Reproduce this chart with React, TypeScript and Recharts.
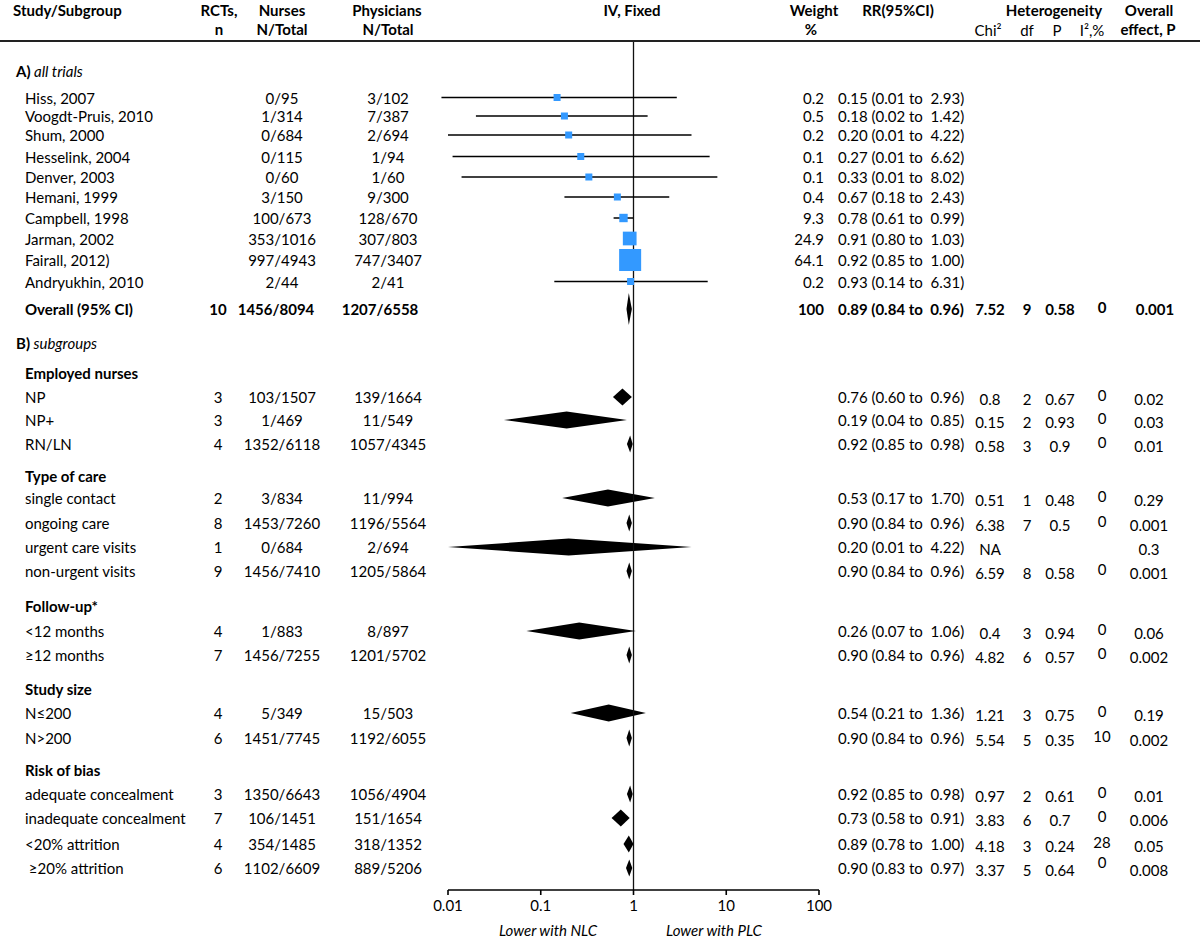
import React from 'react';
import {
  ScatterChart,
  Scatter,
  XAxis,
  YAxis,
  ReferenceLine,
  ReferenceArea,
} from 'recharts';

const FONT = 'Lato, "Open Sans", sans-serif';
const FS = 15;
const SQUARE_BLUE = '#3399ff';

// ---- A) all trials ----
const studyNames = [
  'Hiss, 2007',
  'Voogdt-Pruis, 2010',
  'Shum, 2000',
  'Hesselink, 2004',
  'Denver, 2003',
  'Hemani, 1999',
  'Campbell, 1998',
  'Jarman, 2002',
  'Fairall, 2012)',
  'Andryukhin, 2010',
];
const studyNurses = ['0/95', '1/314', '0/684', '0/115', '0/60', '3/150', '100/673', '353/1016', '997/4943', '2/44'];
const studyPhysicians = ['3/102', '7/387', '2/694', '1/94', '1/60', '9/300', '128/670', '307/803', '747/3407', '2/41'];
const studyWeight = [0.2, 0.5, 0.2, 0.1, 0.1, 0.4, 9.3, 24.9, 64.1, 0.2];
const studyRR = [0.15, 0.18, 0.2, 0.27, 0.33, 0.67, 0.78, 0.91, 0.92, 0.93];
// lower limits as drawn (the printed 0.01 values are rounded)
const studyLow = [0.0085, 0.02, 0.01, 0.0112, 0.014, 0.18, 0.61, 0.8, 0.85, 0.14];
const studyHigh = [2.93, 1.42, 4.22, 6.62, 8.02, 2.43, 0.99, 1.03, 1.0, 6.31];
const studyCI = [
  '0.15 (0.01 to  2.93)',
  '0.18 (0.02 to  1.42)',
  '0.20 (0.01 to  4.22)',
  '0.27 (0.01 to  6.62)',
  '0.33 (0.01 to  8.02)',
  '0.67 (0.18 to  2.43)',
  '0.78 (0.61 to  0.99)',
  '0.91 (0.80 to  1.03)',
  '0.92 (0.85 to  1.00)',
  '0.93 (0.14 to  6.31)',
];

// ---- overall ----
const overallCells = ['Overall (95% CI)', '10', '1456/8094', '1207/6558', '100', '0.89 (0.84 to  0.96)', '7.52', '9', '0.58', '0', '0.001'];
const overallRR = 0.89;
const overallLow = 0.84;
const overallHigh = 0.96;

// ---- B) subgroups ----
const groupNames = ['Employed nurses', 'Type of care', 'Follow-up*', 'Study size', 'Risk of bias'];
const groupSizes = [3, 4, 2, 2, 4];
const subNames = [
  'NP', 'NP+', 'RN/LN',
  'single contact', 'ongoing care', 'urgent care visits', 'non-urgent visits',
  '<12 months', '≥12 months',
  'N≤200', 'N>200',
  'adequate concealment', 'inadequate concealment', '<20% attrition', ' ≥20% attrition',
];
const subRCTs = ['3', '3', '4', '2', '8', '1', '9', '4', '7', '4', '6', '3', '7', '4', '6'];
const subNurses = ['103/1507', '1/469', '1352/6118', '3/834', '1453/7260', '0/684', '1456/7410', '1/883', '1456/7255', '5/349', '1451/7745', '1350/6643', '106/1451', '354/1485', '1102/6609'];
const subPhysicians = ['139/1664', '11/549', '1057/4345', '11/994', '1196/5564', '2/694', '1205/5864', '8/897', '1201/5702', '15/503', '1192/6055', '1056/4904', '151/1654', '318/1352', '889/5206'];
const subRR = [0.76, 0.19, 0.92, 0.53, 0.9, 0.2, 0.9, 0.26, 0.9, 0.54, 0.9, 0.92, 0.73, 0.89, 0.9];
const subLow = [0.6, 0.04, 0.85, 0.17, 0.84, 0.01, 0.84, 0.07, 0.84, 0.21, 0.84, 0.85, 0.58, 0.78, 0.83];
const subHigh = [0.96, 0.85, 0.98, 1.7, 0.96, 4.22, 0.96, 1.06, 0.96, 1.36, 0.96, 0.98, 0.91, 1.0, 0.97];
const subCI = [
  '0.76 (0.60 to  0.96)', '0.19 (0.04 to  0.85)', '0.92 (0.85 to  0.98)',
  '0.53 (0.17 to  1.70)', '0.90 (0.84 to  0.96)', '0.20 (0.01 to  4.22)', '0.90 (0.84 to  0.96)',
  '0.26 (0.07 to  1.06)', '0.90 (0.84 to  0.96)',
  '0.54 (0.21 to  1.36)', '0.90 (0.84 to  0.96)',
  '0.92 (0.85 to  0.98)', '0.73 (0.58 to  0.91)', '0.89 (0.78 to  1.00)', '0.90 (0.83 to  0.97)',
];
const subChi = ['0.8', '0.15', '0.58', '0.51', '6.38', 'NA', '6.59', '0.4', '4.82', '1.21', '5.54', '0.97', '3.83', '4.18', '3.37'];
const subDf = ['2', '2', '3', '1', '7', '', '8', '3', '6', '3', '5', '2', '6', '3', '5'];
const subP = ['0.67', '0.93', '0.9', '0.48', '0.5', '', '0.58', '0.94', '0.57', '0.75', '0.35', '0.61', '0.7', '0.24', '0.64'];
const subI2 = ['0', '0', '0', '0', '0', '', '0', '0', '0', '0', '10', '0', '0', '28', '0'];
const subOverallP = ['0.02', '0.03', '0.01', '0.29', '0.001', '0.3', '0.001', '0.06', '0.002', '0.19', '0.002', '0.01', '0.006', '0.05', '0.008'];

const xTicks = [0.01, 0.1, 1, 10, 100];

// ---- layout ----
type Row = { kind: 'section' | 'study' | 'overall' | 'heading' | 'sub'; i: number };
const rows: Row[] = [];
rows.push({ kind: 'section', i: 0 });
studyNames.forEach((_, i) => rows.push({ kind: 'study', i }));
rows.push({ kind: 'overall', i: 0 });
rows.push({ kind: 'section', i: 1 });
{
  let k = 0;
  groupNames.forEach((_, g) => {
    rows.push({ kind: 'heading', i: g });
    for (let j = 0; j < groupSizes[g]; j++) rows.push({ kind: 'sub', i: k++ });
  });
}

// vertical slot of every row (y axis units)
const ROW_Y = [
  71,
  97.5, 116, 135, 156.5, 177, 197, 218, 238.5, 260, 281.5,
  309,
  343,
  373, 397, 420, 444,
  476, 498, 523, 547, 571,
  606, 631, 655,
  689, 713, 738,
  770, 794, 818, 844, 868,
];

const COL = {
  name: 25,
  rct: 218,
  nurses: 282,
  phys: 388,
  weight: 824,
  rr: 838,
  chi: 990,
  df: 1027,
  p: 1060,
  i2: 1102,
  op: 1149,
};

const yOf = (kind: Row['kind'], i: number) =>
  ROW_Y[rows.findIndex((r) => r.kind === kind && r.i === i)];

const squareData = studyRR.map((rr, i) => ({ x: rr, y: yOf('study', i), w: studyWeight[i] }));

function Cell({
  x, y, children, anchor = 'middle', bold = false, italic = false, dy = 0,
}: any) {
  return (
    <text
      x={x}
      y={y + dy}
      textAnchor={anchor}
      dominantBaseline="central"
      fontFamily={FONT}
      fontSize={FS}
      fontWeight={bold ? 700 : 400}
      fontStyle={italic ? 'italic' : 'normal'}
      fill="#000"
      style={{ whiteSpace: 'pre' }}
    >
      {children}
    </text>
  );
}

function RowTick({ y, payload }: any) {
  const r = rows[ROW_Y.indexOf(payload.value)];
  if (!r) return null;
  if (r.kind === 'section') {
    return (
      <text x={16} y={y} dominantBaseline="central" fontFamily={FONT} fontSize={FS} fill="#000">
        <tspan fontWeight={700}>{r.i === 0 ? 'A)' : 'B)'}</tspan>
        <tspan fontStyle="italic">{r.i === 0 ? ' all trials' : ' subgroups'}</tspan>
      </text>
    );
  }
  if (r.kind === 'heading') {
    return <Cell x={COL.name} y={y} anchor="start" bold>{groupNames[r.i]}</Cell>;
  }
  if (r.kind === 'study') {
    const i = r.i;
    return (
      <g>
        <Cell x={COL.name} y={y} anchor="start">{studyNames[i]}</Cell>
        <Cell x={COL.nurses} y={y}>{studyNurses[i]}</Cell>
        <Cell x={COL.phys} y={y}>{studyPhysicians[i]}</Cell>
        <Cell x={COL.weight} y={y} anchor="end">{studyWeight[i].toFixed(1)}</Cell>
        <Cell x={COL.rr} y={y} anchor="start">{studyCI[i]}</Cell>
      </g>
    );
  }
  if (r.kind === 'overall') {
    const c = overallCells;
    return (
      <g>
        <Cell x={COL.name} y={y} anchor="start" bold>{c[0]}</Cell>
        <Cell x={COL.rct} y={y} bold>{c[1]}</Cell>
        <Cell x={COL.nurses - 6} y={y} bold>{c[2]}</Cell>
        <Cell x={COL.phys - 8} y={y} bold>{c[3]}</Cell>
        <Cell x={COL.weight} y={y} anchor="end" bold>{c[4]}</Cell>
        <Cell x={COL.rr} y={y} anchor="start" bold>{c[5]}</Cell>
        <Cell x={COL.chi} y={y} bold>{c[6]}</Cell>
        <Cell x={COL.df} y={y} bold>{c[7]}</Cell>
        <Cell x={COL.p} y={y} bold>{c[8]}</Cell>
        <Cell x={COL.i2} y={y} bold dy={-2}>{c[9]}</Cell>
        <Cell x={COL.op + 6} y={y} bold>{c[10]}</Cell>
      </g>
    );
  }
  const i = r.i;
  return (
    <g>
      <Cell x={COL.name} y={y} anchor="start">{subNames[i]}</Cell>
      <Cell x={COL.rct} y={y}>{subRCTs[i]}</Cell>
      <Cell x={COL.nurses} y={y}>{subNurses[i]}</Cell>
      <Cell x={COL.phys} y={y}>{subPhysicians[i]}</Cell>
      <Cell x={COL.rr} y={y} anchor="start">{subCI[i]}</Cell>
      <Cell x={COL.chi} y={y} dy={2}>{subChi[i]}</Cell>
      <Cell x={COL.df} y={y} dy={2}>{subDf[i]}</Cell>
      <Cell x={COL.p} y={y} dy={2}>{subP[i]}</Cell>
      <Cell x={COL.i2} y={y} dy={i === subNames.length - 1 ? -6 : -2}>{subI2[i]}</Cell>
      <Cell x={COL.op} y={y} dy={2}>{subOverallP[i]}</Cell>
    </g>
  );
}

function Square({ cx, cy, payload }: any) {
  const s = Math.max(7, 2.75 * Math.sqrt(payload.w));
  return <rect x={cx - s / 2} y={cy - s / 2} width={s} height={s} fill={SQUARE_BLUE} />;
}

// diamond drawn inside the rectangle the library computes for [lo, hi]
function diamondShape(rr: number, lo: number, hi: number) {
  const frac = (Math.log(rr) - Math.log(lo)) / (Math.log(hi) - Math.log(lo));
  return ({ x, y, width, height }: any) => {
    const mx = x + width * frac;
    const my = y + height / 2;
    return (
      <polygon
        points={`${x},${my} ${mx},${y} ${x + width},${my} ${mx},${y + height}`}
        fill="#000"
      />
    );
  };
}

function HeaderText({ x, y, children, bold = true, align = 'center' }: any) {
  const tx = align === 'center' ? '-50%' : '0';
  return (
    <div
      style={{
        position: 'absolute',
        left: x,
        top: y,
        transform: `translate(${tx}, -50%)`,
        fontFamily: FONT,
        fontSize: FS,
        fontWeight: bold ? 700 : 400,
        whiteSpace: 'pre',
        color: '#000',
        lineHeight: '17px',
      }}
    >
      {children}
    </div>
  );
}

export default function App() {
  const subY = (i: number) => yOf('sub', i);
  const overallY = yOf('overall', 0);
  return (
    <div style={{ position: 'relative', width: 1200, height: 940, background: '#fff' }}>
      <style>{'body{margin:0;}'}</style>

      {/* column headers */}
      <HeaderText x={13} y={10} align="left">Study/Subgroup</HeaderText>
      <HeaderText x={219} y={10}>RCTs,</HeaderText>
      <HeaderText x={219} y={29}>n</HeaderText>
      <HeaderText x={282} y={10}>Nurses</HeaderText>
      <HeaderText x={282} y={29}>N/Total</HeaderText>
      <HeaderText x={387} y={10}>Physicians</HeaderText>
      <HeaderText x={388} y={29}>N/Total</HeaderText>
      <HeaderText x={632} y={10}>IV, Fixed</HeaderText>
      <HeaderText x={814} y={10}>Weight</HeaderText>
      <HeaderText x={811} y={29}>%</HeaderText>
      <HeaderText x={898} y={10}>RR(95%CI)</HeaderText>
      <HeaderText x={1054} y={10}>Heterogeneity</HeaderText>
      <HeaderText x={988} y={30} bold={false}>Chi²</HeaderText>
      <HeaderText x={1027} y={30} bold={false}>df</HeaderText>
      <HeaderText x={1057} y={30} bold={false}>P</HeaderText>
      <HeaderText x={1092} y={30} bold={false}>I²,%</HeaderText>
      <HeaderText x={1149} y={10}>Overall</HeaderText>
      <HeaderText x={1148} y={29}>effect, P</HeaderText>
      <div style={{ position: 'absolute', left: 0, top: 40, width: 1200, height: 2, background: '#222' }} />

      <ScatterChart
        width={1200}
        height={940}
        margin={{ top: 42, right: 381, bottom: 0, left: 447 }}
      >
        <XAxis
          type="number"
          dataKey="x"
          scale="log"
          domain={[0.01, 100]}
          allowDataOverflow
          ticks={xTicks}
          interval={0}
          tickFormatter={(v: number) => String(v)}
          height={50}
          tickSize={5}
          tickMargin={5}
          stroke="#000"
          strokeWidth={1.6}
          tick={{ fill: '#000', fontSize: FS, fontFamily: FONT }}
        />
        <YAxis
          type="number"
          dataKey="y"
          domain={[42, 890]}
          reversed
          allowDataOverflow
          ticks={ROW_Y}
          interval={0}
          width={1}
          axisLine={false}
          tickLine={false}
          tick={<RowTick />}
        />
        <ReferenceLine x={1} stroke="#111" strokeWidth={1.3} />
        {studyRR.map((_, i) => (
          <ReferenceLine
            key={`ci-${i}`}
            segment={[
              { x: studyLow[i], y: yOf('study', i) },
              { x: studyHigh[i], y: yOf('study', i) },
            ]}
            stroke="#000"
            strokeWidth={1.5}
            ifOverflow="visible"
          />
        ))}
        <ReferenceArea
          x1={overallLow}
          x2={overallHigh}
          y1={overallY - 16}
          y2={overallY + 16}
          shape={diamondShape(overallRR, overallLow, overallHigh)}
        />
        {subRR.map((rr, i) => (
          <ReferenceArea
            key={`dm-${i}`}
            x1={subLow[i]}
            x2={subHigh[i]}
            y1={subY(i) - 8.5}
            y2={subY(i) + 8.5}
            shape={diamondShape(rr, subLow[i], subHigh[i])}
          />
        ))}
        <Scatter data={squareData} shape={<Square />} isAnimationActive={false} />
      </ScatterChart>

      <div style={{ position: 'absolute', left: 548, top: 930, transform: 'translate(-50%, -50%)', fontFamily: FONT, fontSize: FS, fontStyle: 'italic' }}>
        Lower with NLC
      </div>
      <div style={{ position: 'absolute', left: 714, top: 930, transform: 'translate(-50%, -50%)', fontFamily: FONT, fontSize: FS, fontStyle: 'italic' }}>
        Lower with PLC
      </div>
    </div>
  );
}
